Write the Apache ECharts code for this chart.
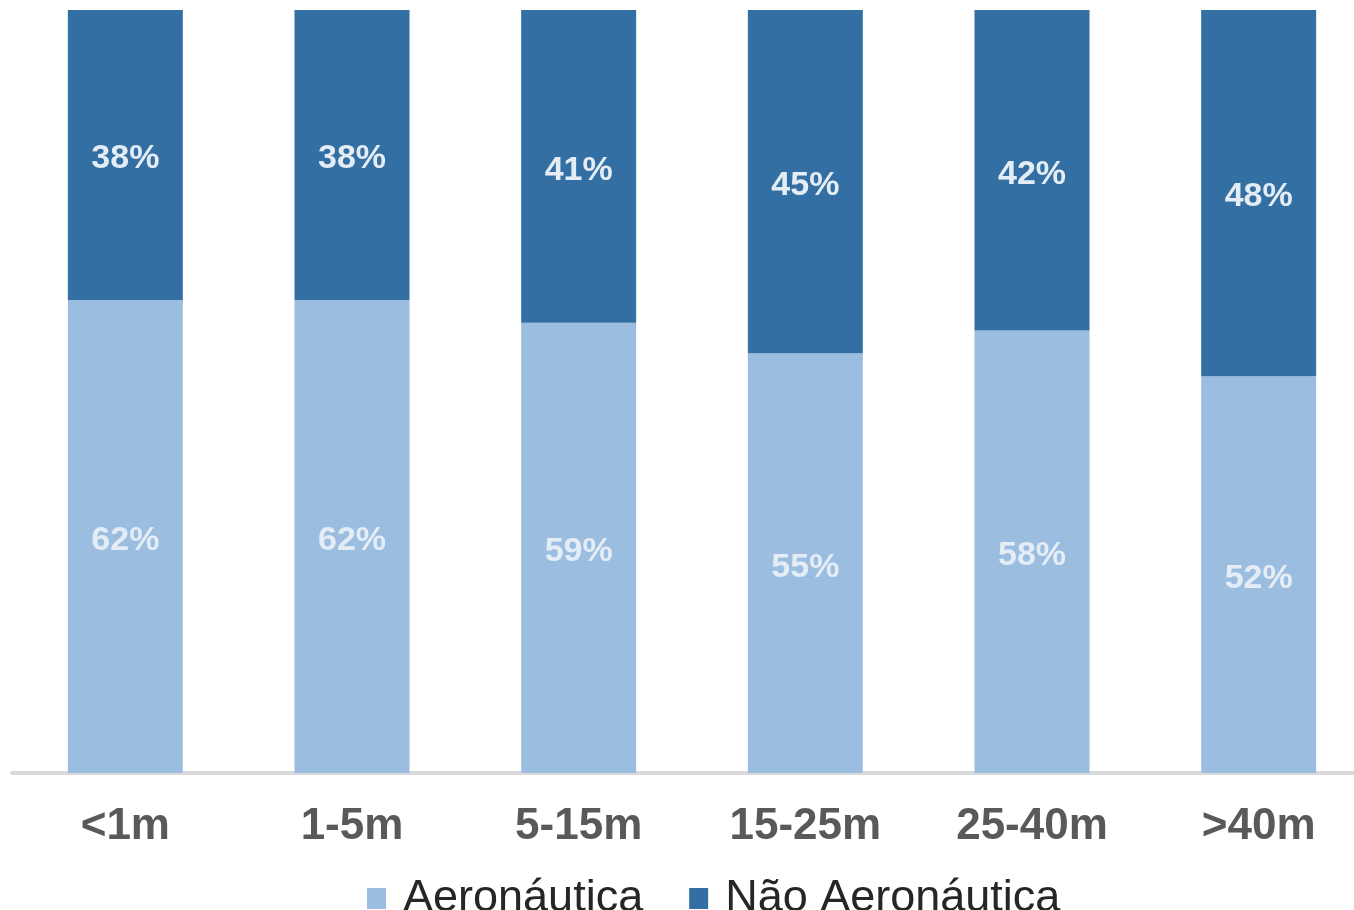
<!DOCTYPE html>
<html>
<head>
<meta charset="utf-8">
<script src="https://cdn.jsdelivr.net/npm/echarts@6/dist/echarts.min.js"></script>
<style>html,body{margin:0;padding:0;background:#fff}#c{width:1354px;height:910px}</style>
</head>
<body>
<div id="c"></div>
<script>
const categories = ['<1m', '1-5m', '5-15m', '15-25m', '25-40m', '>40m'];
const aeronautica = [62, 62, 59, 55, 58, 52];
const naoAeronautica = [38, 38, 41, 45, 42, 48];
const seriesNames = ['Aeronáutica', 'Não Aeronáutica'];

const chart = echarts.init(document.getElementById('c'), null, {renderer: 'canvas'});
const labelCfg = {
  show: true, position: 'inside', formatter: '{c}%', offset: [0, 4],
  color: '#e4ecf5', fontSize: 34, fontWeight: 'bold', fontFamily: 'Liberation Sans'
};
chart.setOption({
  animation: false,
  backgroundColor: '#fff',
  grid: {left: 12, width: 1360, top: 10, height: 763, containLabel: false, outerBoundsMode: 'none'},
  legend: {
    data: seriesNames, left: 362, top: 871, itemGap: 46,
    itemWidth: 19, itemHeight: 21, icon: 'rect',
    textStyle: {fontSize: 45, color: '#262626', fontFamily: 'Liberation Sans', padding: [0, 0, 0, 12]}
  },
  xAxis: {
    type: 'category', data: categories,
    axisLine: {lineStyle: {color: '#d9d9d9', width: 4}},
    axisTick: {show: false},
    axisLabel: {fontSize: 44, fontWeight: 'bold', color: '#595959', margin: 32, fontFamily: 'Liberation Sans'}
  },
  yAxis: {type: 'value', min: 0, max: 100, show: false, splitLine: {show: false}},
  series: [
    {name: seriesNames[0], type: 'bar', stack: 'a', data: aeronautica, barWidth: 115,
     itemStyle: {color: '#9bbde0'}, label: labelCfg},
    {name: seriesNames[1], type: 'bar', stack: 'a', data: naoAeronautica, barWidth: 115,
     itemStyle: {color: '#336fa3'}, label: labelCfg}
  ]
});
</script>
</body>
</html>
